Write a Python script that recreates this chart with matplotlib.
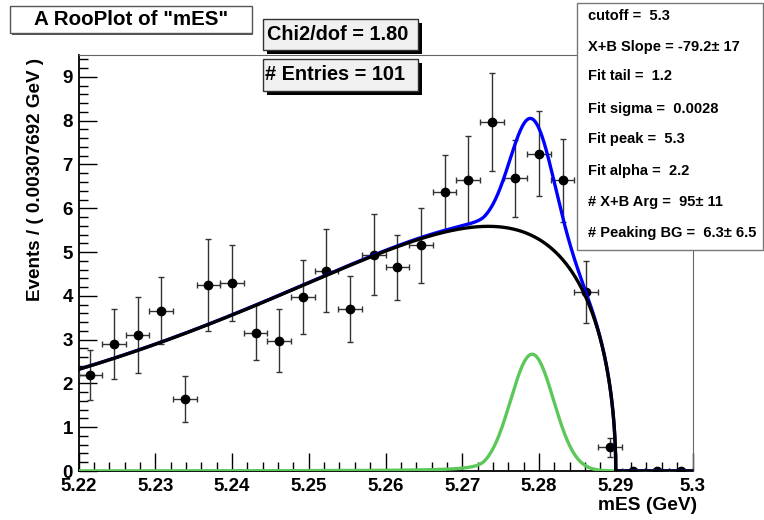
import numpy as np
import matplotlib
matplotlib.use("Agg")
import matplotlib.pyplot as plt
from matplotlib.patches import Rectangle
from matplotlib.ticker import MultipleLocator

plt.rcParams['font.family'] = ['Liberation Sans', 'DejaVu Sans']
plt.rcParams['font.weight'] = 'bold'

# binning of mES
bin_lo, bin_hi, n_bins = 5.22, 5.30, 26
# data: events per bin and symmetric errors
events = [2.20, 2.90, 3.11, 3.66, 1.65, 4.25, 4.30, 3.16, 2.97, 3.97, 4.57, 3.70, 4.94,
          4.65, 5.15, 6.36, 6.64, 7.96, 6.68, 7.25, 6.64, 4.09, 0.54, 0.0, 0.0, 0.0]
errors = [0.57, 0.79, 0.87, 0.77, 0.52, 1.05, 0.87, 0.63, 0.72, 0.85, 0.95, 0.76, 0.92,
          0.74, 0.85, 0.85, 1.00, 1.12, 0.87, 0.98, 0.95, 0.71, 0.22, 0.0, 0.0, 0.0]

# fit results (ARGUS background + Crystal Ball peak)
cutoff = 5.29
slope = -79.2
n_bkg = 95.0
cb_peak = 5.2791
cb_sigma = 0.0028
cb_alpha = 2.2
cb_tail = 1.2
n_peak = 6.3

stat_lines = ["cutoff =  5.3", "X+B Slope = -79.2\u00b1 17", "Fit tail =  1.2",
              "Fit sigma =  0.0028", "Fit peak =  5.3", "Fit alpha =  2.2",
              "# X+B Arg =  95\u00b1 11", "# Peaking BG =  6.3\u00b1 6.5"]

binw = (bin_hi - bin_lo) / n_bins
centers = bin_lo + binw * (np.arange(n_bins) + 0.5)


def argus(m):
    z = 1 - (m / cutoff) ** 2
    out = np.zeros_like(m)
    ok = z > 0
    out[ok] = m[ok] * np.sqrt(z[ok]) * np.exp(slope * z[ok])
    return out


def crystalball(m):
    t = (m - cb_peak) / cb_sigma
    a = (cb_tail / cb_alpha) ** cb_tail * np.exp(-cb_alpha ** 2 / 2)
    b = cb_tail / cb_alpha - cb_alpha
    out = np.exp(-t ** 2 / 2)
    low = t < -cb_alpha
    out[low] = a * (b - t[low]) ** (-cb_tail)
    return out


mm = np.linspace(bin_lo, bin_hi, 4001)
mm = np.sort(np.append(mm, [cutoff - 1e-7, cutoff]))
bk = argus(mm)
bk = bk / np.trapezoid(bk, mm) * n_bkg * binw
pk = crystalball(mm)
pk = pk / np.trapezoid(pk, mm) * n_peak * binw
tot = bk + pk

W, H = 764, 520
fig = plt.figure(figsize=(W / 100, H / 100), dpi=100)


def fx(px):
    return px / W


def fy(py):
    return 1 - py / H


ax = fig.add_axes([fx(78.5), fy(471), fx(692.5) - fx(78.5), fy(55) - fy(471)])

ax.errorbar(centers, events, yerr=errors, xerr=binw / 2, fmt='o', color='black',
            ecolor='#333333', elinewidth=1, capsize=2.2, capthick=1, markersize=6, zorder=3)
ax.plot(mm, pk, color='#5cc85a', lw=2.4, zorder=4)
ax.plot(mm, tot, color='#0000ff', lw=2.4, zorder=5)
ax.plot(mm, bk, color='black', lw=2.4, zorder=6)

ax.set_xlim(bin_lo, bin_hi)
ax.set_ylim(0, 9.5)
ax.xaxis.set_minor_locator(MultipleLocator(0.002))
ax.yaxis.set_major_locator(MultipleLocator(1))
ax.yaxis.set_minor_locator(MultipleLocator(0.2))
ax.set_xticks(np.round(np.arange(5.22, 5.3001, 0.01), 2))
ax.set_xticklabels(["5.22", "5.23", "5.24", "5.25", "5.26", "5.27", "5.28", "5.29", "5.3"])
ax.tick_params(which='both', direction='in', top=False, right=False, labelsize=13.5)
ax.tick_params(which='major', length=13, width=1)
ax.tick_params(which='minor', length=6.5, width=1)
ax.tick_params(axis='x', pad=5)
ax.tick_params(axis='y', pad=4)
for lab in ax.get_xticklabels() + ax.get_yticklabels():
    lab.set_fontweight('bold')
for s in ['left', 'bottom']:
    ax.spines[s].set_linewidth(1.3)
for s in ['top', 'right']:
    ax.spines[s].set_linewidth(0.8)
    ax.spines[s].set_color('#666666')

fig.text(fx(697), fy(505), "mES (GeV)", ha='right', va='center', fontsize=13.8, fontweight='bold')
fig.text(fx(36), fy(58), "Events / ( 0.00307692 GeV )", rotation=90, ha='center', va='top',
         fontsize=13.6, fontweight='bold')


def box(x0, y0, x1, y1, fc, ec, shadow=0, scol='black', lw=1.0):
    if shadow:
        fig.add_artist(Rectangle((fx(x0 + shadow), fy(y1 + shadow)), fx(x1 - x0), fy(y0) - fy(y1),
                                 transform=fig.transFigure, facecolor=scol, edgecolor='none'))
    fig.add_artist(Rectangle((fx(x0), fy(y1)), fx(x1 - x0), fy(y0) - fy(y1),
                             transform=fig.transFigure, facecolor=fc, edgecolor=ec, lw=lw))


# title
box(10, 6, 252, 33, 'white', '#555555', shadow=1.5, scol='#555555')
fig.text(fx(131), fy(19.5), 'A RooPlot of "mES"', ha='center', va='center', fontsize=14.8, fontweight='bold')

# chi2 and entries
box(263, 19, 418, 50, '#f0f0f0', '#333333', shadow=4)
fig.text(fx(267), fy(35), "Chi2/dof = 1.80", ha='left', va='center', fontsize=14.3, fontweight='bold')
box(263, 59, 418, 91, '#f0f0f0', '#333333', shadow=4)
fig.text(fx(265), fy(75), "# Entries = 101", ha='left', va='center', fontsize=14.3, fontweight='bold')

# parameter box
box(577, 3, 763, 250, 'white', '#777777')
ys = [16, 47, 76, 109, 139, 171, 202, 233]
for yy, txt in zip(ys, stat_lines):
    fig.text(fx(588), fy(yy), txt, ha='left', va='center', fontsize=10.5, fontweight='bold')

fig.savefig("out.png", dpi=100)
